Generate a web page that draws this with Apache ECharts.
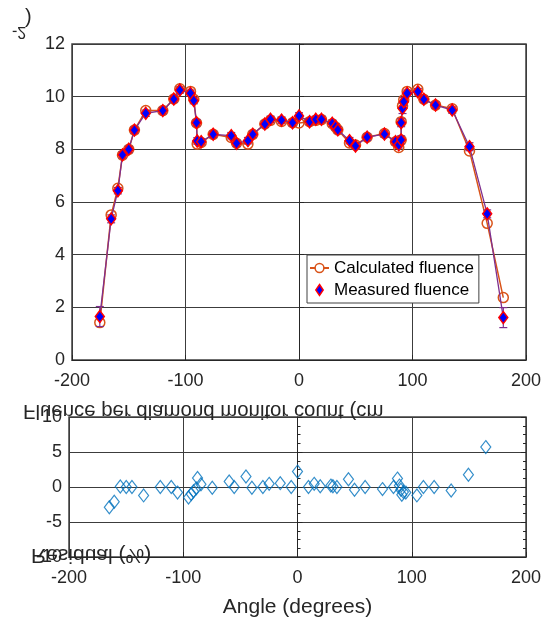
<!DOCTYPE html>
<html>
<head>
<meta charset="utf-8">
<script src="https://cdn.jsdelivr.net/npm/echarts@6/dist/echarts.min.js"></script>
<style>
  html, body { margin: 0; padding: 0; background: #fff; }
  #chart { width: 550px; height: 617px; }
</style>
</head>
<body>
<div id="chart"></div>
<script>
// angles (degrees) for the fluence profile
var angles = [-175.5, -165.5, -159.6, -155.5, -150, -145, -135, -120, -110.3, -105, -95.6, -92.7, -90.3, -89.7, -86.2,
    -75.6, -59.7, -55, -45, -40.7, -30.1, -25.1, -15.4, -5.7, 0, 9.3, 14.8, 19.8, 29.3, 32.2, 34.2, 44.5, 49.8, 60,
    75.3, 85, 87.9, 90, 90, 91.2, 92.3, 95.3, 104.7, 110, 120.3, 135, 150.2, 165.8, 180];
var measured = [1.65, 5.36, 6.43, 7.79, 8.0, 8.73, 9.37, 9.47, 9.91, 10.25, 10.13, 9.85, 9.01, 8.32, 8.29,
    8.57, 8.52, 8.23, 8.33, 8.57, 8.96, 9.14, 9.11, 9.01, 9.27, 9.05, 9.14, 9.14, 8.99, 8.86, 8.74, 8.33, 8.13, 8.46,
    8.58, 8.29, 8.17, 8.36, 9.01, 9.56, 9.81, 10.13, 10.19, 9.9, 9.68, 9.49, 8.1, 5.55, 1.61];
var measuredErr = [0.38, 0.15, 0.12, 0.12, 0.12, 0.12, 0.12, 0.12, 0.12, 0.12, 0.12, 0.12, 0.12, 0.12, 0.12,
    0.12, 0.12, 0.12, 0.12, 0.12, 0.12, 0.12, 0.12, 0.12, 0.12, 0.12, 0.12, 0.12, 0.12, 0.12, 0.12, 0.12, 0.12, 0.12,
    0.12, 0.12, 0.12, 0.15, 0.15, 0.2, 0.15, 0.12, 0.12, 0.12, 0.12, 0.12, 0.15, 0.15, 0.38];
var calculated = [1.42, 5.51, 6.52, 7.78, 8.0, 8.73, 9.47, 9.47, 9.91, 10.3, 10.2, 9.9, 9.0, 8.2, 8.26,
    8.57, 8.45, 8.23, 8.2, 8.57, 8.96, 9.1, 9.06, 9.01, 9.0, 9.05, 9.1, 9.13, 8.97, 8.85, 8.74, 8.24, 8.16, 8.46,
    8.6, 8.29, 8.07, 8.35, 9.05, 9.65, 9.88, 10.2, 10.28, 9.9, 9.68, 9.54, 7.94, 5.19, 2.37];

// residuals (%)
var resAngles = [-164.7, -160.4, -155.1, -149.9, -144.9, -134.7, -120.1, -110.5, -105, -95.4, -93, -91, -88.6, -87.5,
    -84.5, -74.6, -59.8, -55.4, -45.1, -39.9, -30.3, -24.8, -15.1, -5.5, 0, 9.6, 14.6, 19.9, 29.2, 31, 34.5, 44.6,
    49.9, 59.2, 74.4, 84, 87.5, 89.2, 90.5, 91.3, 92.7, 94.8, 104.5, 110.2, 119.6, 134.5, 149.6, 164.8];
var resValues = [-2.9, -2.1, 0.07, 0, 0, -1.2, 0, 0, -0.8, -1.5, -1.0, -0.6, -0.2, 1.3, 0.4, -0.1, 0.8, 0, 1.5,
    -0.1, 0, 0.45, 0.55, 0, 2.2, 0, 0.45, 0.1, 0.2, 0.1, 0, 1.1, -0.4, 0, -0.3, 0, 1.2, 0.2, -0.4, -1.1, -0.7, -0.8,
    -1.2, 0, 0, -0.5, 1.75, 5.7];

var FONT = 'Liberation Sans, Arial, sans-serif';
var TXT = '#262626';
var GRIDC = '#3c3c3c';
var ORANGE = '#D95319';
var PURPLE = '#7E2F8E';
var BLUE = '#0072BD';

var measData = angles.map(function (a, i) { return [a, measured[i]]; });
var calcData = angles.map(function (a, i) { return [a, calculated[i]]; });
var errData = angles.map(function (a, i) { return [a, measured[i], measuredErr[i]]; });
var resData = resAngles.map(function (a, i) { return [a, resValues[i]]; });

function xAxisCfg(gridIndex, margin) {
    return {
        type: 'value', gridIndex: gridIndex, min: -200, max: 200, interval: 100,
        axisLine: { show: true, onZero: false, lineStyle: { color: TXT, width: 1 } },
        axisTick: { show: true, inside: true, length: 5, lineStyle: { color: TXT } },
        axisLabel: { color: TXT, fontSize: 18, fontFamily: FONT, margin: margin },
        splitLine: { show: true, lineStyle: { color: GRIDC, width: 1 } }
    };
}

var chart = echarts.init(document.getElementById('chart'));

// diamond legend icon, padded left/right so it keeps a slim shape
var diamondIcon = 'path://M0,6L0,6M20,6L20,6M10,0L14,6L10,12L6,6Z';

var option = {
    animation: false,
    backgroundColor: '#fff',
    grid: [
        { left: 72, right: 24, top: 44, height: 316, show: true, borderColor: '#404040', borderWidth: 1.5, outerBoundsMode: 'none' },
        { left: 69, right: 24, top: 417, height: 140, show: true, borderColor: '#404040', borderWidth: 1.5, outerBoundsMode: 'none' }
    ],
    xAxis: [
        xAxisCfg(0, 12),
        Object.assign(xAxisCfg(1, 12), {
            name: 'Angle (degrees)', nameLocation: 'middle', nameGap: 40,
            nameTextStyle: { color: TXT, fontSize: 21, fontFamily: FONT }
        })
    ],
    yAxis: [
        {
            type: 'value', gridIndex: 0, min: 0, max: 12, interval: 2,
            axisLine: { show: true, lineStyle: { color: TXT } },
            axisTick: { show: true, inside: true, length: 5, lineStyle: { color: TXT } },
            axisLabel: { color: TXT, fontSize: 18, fontFamily: FONT, margin: 7 },
            splitLine: { show: true, lineStyle: { color: GRIDC, width: 1 } }
        },
        {
            type: 'value', gridIndex: 1, min: -10, max: 10, interval: 5,
            axisLine: { show: true, lineStyle: { color: TXT } },
            axisTick: { show: true, inside: true, length: 5, lineStyle: { color: TXT } },
            minorTick: { show: true, splitNumber: 4, length: 3, lineStyle: { color: TXT } },
            axisLabel: { color: TXT, fontSize: 18, fontFamily: FONT, margin: 7 },
            splitLine: { show: true, lineStyle: { color: GRIDC, width: 1 } }
        },
        {
            type: 'value', gridIndex: 1, min: -10, max: 10, interval: 5, position: 'right',
            axisLine: { show: false },
            axisTick: { show: true, inside: true, length: 5, lineStyle: { color: TXT } },
            minorTick: { show: true, splitNumber: 4, length: 3, lineStyle: { color: TXT } },
            axisLabel: { show: false },
            splitLine: { show: false }
        }
    ],
    legend: {
        left: 307, top: 255, orient: 'vertical',
        backgroundColor: '#fff', borderColor: '#404040', borderWidth: 1,
        padding: [4, 5, 4, 2], itemGap: 4, itemWidth: 19, itemHeight: 11,
        textStyle: { color: '#000', fontSize: 17, fontFamily: FONT, lineHeight: 18 },
        data: [
            { name: 'Calculated fluence', itemStyle: { color: '#fff', borderColor: ORANGE, borderWidth: 1.5 } },
            { name: 'Measured fluence', icon: diamondIcon, itemStyle: { color: '#0000FF', borderColor: '#FF0000', borderWidth: 1.5 } }
        ]
    },
    graphic: [
        // y labels as they appear in the original: flipped top-to-bottom
        {
            type: 'text', x: 23, y: 411, scaleY: -1, z: 100,
            style: { text: 'Fluence per diamond monitor count (cm', fill: TXT, fontSize: 20.4, fontFamily: FONT, textVerticalAlign: 'middle' }
        },
        {
            type: 'text', x: 12, y: 31, scaleY: -1, z: 100,
            style: { text: '-2', fill: TXT, fontSize: 16, fontFamily: FONT, textVerticalAlign: 'middle' }
        },
        {
            type: 'text', x: 25, y: 18, scaleY: -1, z: 100,
            style: { text: ')', fill: TXT, fontSize: 20, fontFamily: FONT, textVerticalAlign: 'middle' }
        },
        {
            type: 'text', x: 31, y: 555, scaleY: -1, z: 100,
            style: { text: 'Residual (%)', fill: TXT, fontSize: 21, fontFamily: FONT, textVerticalAlign: 'middle' }
        }
    ],
    series: [
        {
            name: 'Calculated fluence', type: 'line', xAxisIndex: 0, yAxisIndex: 0,
            data: calcData, symbol: 'circle', symbolSize: 10, z: 2,
            lineStyle: { color: ORANGE, width: 1.5 },
            itemStyle: { color: 'rgba(255,255,255,0)', borderColor: ORANGE, borderWidth: 1.5 }
        },
        {
            name: 'errors', type: 'custom', xAxisIndex: 0, yAxisIndex: 0, z: 3,
            data: errData,
            renderItem: function (params, api) {
                var x = api.value(0), y = api.value(1), e = api.value(2);
                var lo = api.coord([x, y - e]);
                var hi = api.coord([x, y + e]);
                var w = 4;
                var st = { stroke: PURPLE, lineWidth: 1.2 };
                return {
                    type: 'group',
                    children: [
                        { type: 'line', shape: { x1: lo[0], y1: lo[1], x2: hi[0], y2: hi[1] }, style: st },
                        { type: 'line', shape: { x1: lo[0] - w, y1: lo[1], x2: lo[0] + w, y2: lo[1] }, style: st },
                        { type: 'line', shape: { x1: hi[0] - w, y1: hi[1], x2: hi[0] + w, y2: hi[1] }, style: st }
                    ]
                };
            }
        },
        {
            name: 'Measured fluence', type: 'line', xAxisIndex: 0, yAxisIndex: 0,
            data: measData, symbol: 'diamond', symbolSize: [9, 12], z: 4,
            lineStyle: { color: PURPLE, width: 1.3 },
            itemStyle: { color: '#0000FF', borderColor: '#FF0000', borderWidth: 1.5 }
        },
        {
            name: 'Residual', type: 'scatter', xAxisIndex: 1, yAxisIndex: 1,
            data: resData, symbol: 'diamond', symbolSize: [10, 13],
            itemStyle: { color: 'rgba(255,255,255,0)', borderColor: BLUE, borderWidth: 1.2 }
        }
    ]
};

chart.setOption(option);
</script>
</body>
</html>
